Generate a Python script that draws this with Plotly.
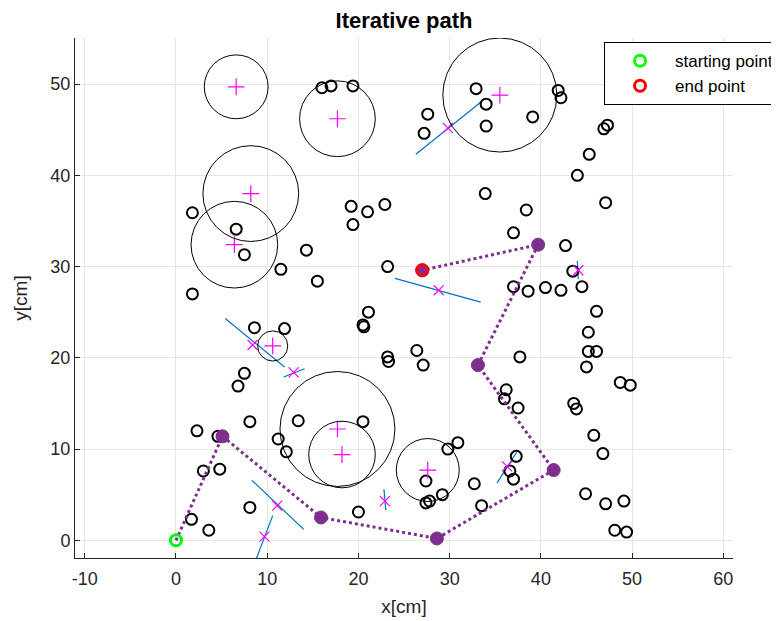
import plotly.graph_objects as go

# ---------------- data ----------------
obstacle_x = [16.0, 17.0, 19.4, 27.6, 27.2, 32.9, 34.0, 34.0, 39.1, 41.9, 42.2, 47.3, 46.9, 45.3, 44.0,
              33.9, 47.1, 38.4, 19.2, 21.0, 22.9, 19.4, 14.3, 11.5, 15.5, 23.2, 21.1, 20.5, 20.6, 8.6,
              11.9, 23.2, 23.3, 26.4, 27.1, 1.8, 6.6, 7.5, 1.8, 7.5, 6.8, 2.3, 4.6, 8.1, 3.0,
              4.8, 8.1, 1.7, 3.6, 13.4, 11.2, 12.1, 20.5, 20.0, 27.4, 27.4, 27.8, 36.2, 36.0, 37.5,
              30.9, 29.8, 29.2, 37.3, 36.6, 37.0, 32.7, 33.5, 45.0, 48.7, 49.8, 43.6, 43.9, 45.8, 46.8,
              44.9, 47.1, 49.1, 48.1, 49.4, 37.0, 42.7, 43.5, 44.5, 37.0, 38.6, 40.5, 42.2, 46.1,
              45.2, 45.2, 46.1, 37.7]
obstacle_y = [49.6, 49.8, 49.8, 46.7, 44.6, 49.5, 47.8, 45.4, 46.4, 49.3, 48.5, 45.5, 45.1, 42.3, 40.0,
              38.0, 37.0, 36.2, 36.6, 36.0, 36.8, 34.6, 31.8, 29.7, 28.4, 30.0, 25.0, 23.6, 23.4, 23.3,
              23.2, 20.1, 19.6, 20.8, 19.2, 35.9, 34.1, 31.3, 27.0, 18.3, 16.9, 12.0, 11.4, 13.0, 7.6,
              7.8, 3.6, 2.3, 1.1, 13.1, 11.1, 9.7, 13.0, 3.1, 6.5, 4.1, 4.3, 16.5, 15.5, 14.5,
              10.7, 10.0, 5.0, 9.2, 7.6, 6.7, 6.2, 3.8, 19.0, 17.3, 17.0, 15.0, 14.4, 11.5, 9.5,
              5.1, 4.0, 4.3, 1.1, 0.9, 33.7, 32.3, 29.5, 27.8, 27.8, 27.3, 27.7, 27.4, 25.1,
              22.8, 20.7, 20.7, 20.1]

path_x = [0.0, 5.1, 15.9, 28.6, 41.4, 33.1, 39.7, 27.0]
path_y = [0.0, 11.4, 2.5, 0.2, 7.7, 19.2, 32.4, 29.6]

region_cx = [6.6, 8.2, 6.4, 17.7, 35.5, 10.6, 17.7, 18.2, 27.6]
region_cy = [49.7, 38.0, 32.4, 46.2, 48.8, 21.3, 12.2, 9.4, 7.7]
region_r = [3.5, 5.25, 4.75, 4.15, 6.25, 1.65, 6.3, 3.65, 3.45]

cross_x = [29.8, 28.8, 44.1, 8.4, 12.9, 11.1, 9.7, 22.9, 36.3]
cross_y = [45.2, 27.4, 29.6, 21.4, 18.4, 3.8, 0.4, 4.3, 8.1]
seg_x0 = [26.3, 24.0, 44.0, 5.4, 11.8, 8.3, 10.6, 22.8, 35.2]
seg_y0 = [42.3, 28.7, 30.6, 24.3, 17.9, 6.6, 2.7, 5.6, 6.3]
seg_x1 = [33.4, 33.4, 44.1, 11.9, 14.1, 14.0, 8.7, 23.0, 37.5]
seg_y1 = [48.0, 26.1, 28.6, 19.0, 18.8, 1.2, -2.3, 3.3, 9.9]

x_ticks = [-10, 0, 10, 20, 30, 40, 50, 60]
x_tick_labels = ["-10", "0", "10", "20", "30", "40", "50", "60"]
y_ticks = [0, 10, 20, 30, 40, 50]
y_tick_labels = ["0", "10", "20", "30", "40", "50"]

PURPLE = "#7E2F8E"
BLUE = "#0072BD"
MAGENTA = "#FF00FF"
AX = "#262626"
FONT = "Liberation Sans, Arial, sans-serif"

fig = go.Figure()

# blue segments
sx, sy = [], []
for a, b, c, d in zip(seg_x0, seg_y0, seg_x1, seg_y1):
    sx += [a, c, None]
    sy += [b, d, None]
fig.add_trace(go.Scatter(x=sx, y=sy, mode="lines", line=dict(color=BLUE, width=1.2),
                         showlegend=False, hoverinfo="skip"))

# obstacles
fig.add_trace(go.Scatter(x=obstacle_x, y=obstacle_y, mode="markers",
                         marker=dict(symbol="circle-open", size=11, color="black",
                                     line=dict(width=2, color="black")),
                         showlegend=False))

# path
fig.add_trace(go.Scatter(x=path_x, y=path_y, mode="lines",
                         line=dict(color=PURPLE, width=3, dash="dot"), showlegend=False))
fig.add_trace(go.Scatter(x=path_x[1:], y=path_y[1:], mode="markers",
                         marker=dict(symbol="circle", size=13, color=PURPLE,
                                     line=dict(width=1, color=PURPLE)),
                         showlegend=False))

# crosses & pluses
fig.add_trace(go.Scatter(x=cross_x, y=cross_y, mode="markers",
                         marker=dict(symbol="x-thin-open", size=10, color=MAGENTA,
                                     line=dict(width=1.2, color=MAGENTA)),
                         showlegend=False))
fig.add_trace(go.Scatter(x=region_cx, y=region_cy, mode="markers",
                         marker=dict(symbol="cross-thin-open", size=12, color=MAGENTA,
                                     line=dict(width=1.2, color=MAGENTA)),
                         showlegend=False))

# start / end
fig.add_trace(go.Scatter(x=path_x[:1], y=path_y[:1], mode="markers", name="starting point",
                         marker=dict(symbol="circle-open", size=11, color="#00FF00",
                                     line=dict(width=3, color="#00FF00"))))
fig.add_trace(go.Scatter(x=path_x[-1:], y=path_y[-1:], mode="markers", name="end point",
                         marker=dict(symbol="circle-open", size=11, color="#FF0000",
                                     line=dict(width=3, color="#FF0000"))))

for cx, cy, r in zip(region_cx, region_cy, region_r):
    fig.add_shape(type="circle", xref="x", yref="y", x0=cx - r, x1=cx + r, y0=cy - r, y1=cy + r,
                  line=dict(color="black", width=1))

W, H = 771, 613  # page body has an 8px margin
fig.update_layout(
    width=W, height=H,
    margin=dict(l=67, r=46, t=30, b=63, autoexpand=False),
    paper_bgcolor="white", plot_bgcolor="white",
    font=dict(family=FONT, color=AX),
    title=dict(text="<b>Iterative path</b>", x=0.5, xref="paper", y=1 - 12 / H,
               yref="container", xanchor="center", yanchor="middle",
               font=dict(family=FONT, size=22, color="black")),
    legend=dict(x=0.804, y=0.992, xanchor="left", yanchor="top",
                bordercolor="black", borderwidth=1, bgcolor="white",
                font=dict(family=FONT, size=17, color="black"), itemwidth=60,
                tracegroupgap=0),
    xaxis=dict(range=[-11.07, 61.06], tickvals=x_ticks, ticktext=x_tick_labels,
               showgrid=True, gridcolor="#e6e6e6",
               ticks="inside", ticklen=5, tickcolor=AX, showline=True, linecolor=AX,
               zeroline=False, tickfont=dict(size=18, color=AX), ticklabelstandoff=4,
               title=dict(text="x[cm]", font=dict(size=19, color=AX), standoff=12)),
    yaxis=dict(range=[-1.94, 55.05], tickvals=y_ticks, ticktext=y_tick_labels,
               showgrid=True, gridcolor="#e6e6e6",
               ticks="inside", ticklen=5, tickcolor=AX, showline=True, linecolor=AX,
               zeroline=False, tickfont=dict(size=18, color=AX),
               title=dict(text="y[cm]", font=dict(size=19, color=AX), standoff=17)),
)

fig.write_html("out.html")
